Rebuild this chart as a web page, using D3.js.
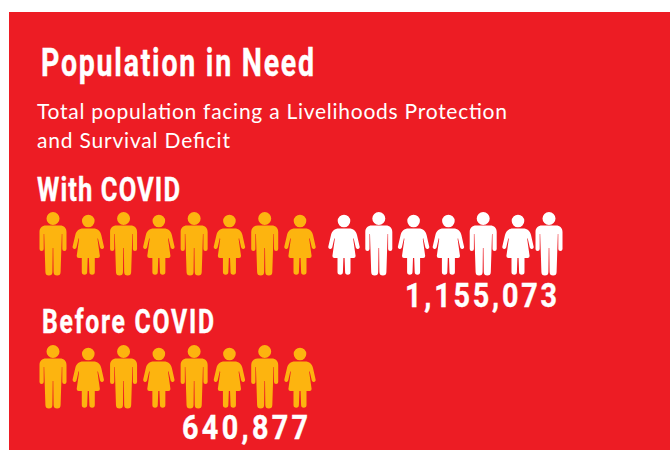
<!DOCTYPE html>
<html>
<head>
<meta charset="utf-8">
<script src="https://cdn.jsdelivr.net/npm/d3@7/dist/d3.min.js"></script>
<style>
  html, body { margin: 0; padding: 0; background: #fff; }
  svg { display: block; }
  text { fill: #fff; }
</style>
</head>
<body>
<div id="chart"></div>
<script>
// Population counts per scenario, one pictogram figure per block of people
const scenarios = ["With COVID", "Before COVID"];
const populations = [1155073, 640877];
const peoplePerIcon = 77000;

// Figure sequence along each row: m = man, w = woman
const figureOrder = ["m","w","m","w","m","w","m","w","w","m","w","w","m","w","m"];

const heading = "Population in Need";
const subheading = ["Total population facing a Livelihoods Protection", "and Survival Deficit"];

const RED = "#ed1c24", AMBER = "#fdb40f", WHITE = "#ffffff";

const width = 670, height = 450;
const svg = d3.select("#chart").append("svg").attr("width", width).attr("height", height);

svg.append("rect").attr("x", 9).attr("y", 12).attr("width", width - 9).attr("height", height - 12).attr("fill", RED);

// Figure outlines, centred on x = 0 with the top of the head at y = 0
function manPath() {
  const p = d3.path();
  p.arc(0, 6.5, 6.5, 0, 2 * Math.PI);
  p.closePath();
  p.moveTo(-7, 13.5);
  p.lineTo(7, 13.5);
  p.bezierCurveTo(11, 13.5, 13.5, 16, 13.5, 20);
  p.lineTo(13.5, 37);
  p.arc(11.4, 37, 2.1, 0, Math.PI);
  p.lineTo(9.3, 22);
  p.lineTo(8.8, 22);
  p.lineTo(7.6, 60);
  p.arc(4.1, 60, 3.5, 0, Math.PI);
  p.lineTo(0.3, 36);
  p.lineTo(-0.3, 36);
  p.lineTo(-0.6, 60);
  p.arc(-4.1, 60, 3.5, 0, Math.PI);
  p.lineTo(-8.8, 22);
  p.lineTo(-9.3, 22);
  p.lineTo(-9.3, 37);
  p.arc(-11.4, 37, 2.1, 0, Math.PI);
  p.lineTo(-13.5, 20);
  p.bezierCurveTo(-13.5, 16, -11, 13.5, -7, 13.5);
  p.closePath();
  return p.toString();
}

function womanPath() {
  const p = d3.path();
  p.arc(0, 9, 6.3, 0, 2 * Math.PI);
  p.closePath();
  p.moveTo(-5, 16.5);
  p.lineTo(5, 16.5);
  p.bezierCurveTo(9.5, 16.5, 12, 19, 13, 23);
  p.lineTo(15.6, 34.5);
  p.arc(13.7, 35, 2, -0.2, Math.PI - 0.3);
  p.lineTo(9.6, 26);
  p.lineTo(9.2, 27);
  p.lineTo(11.6, 44);
  p.quadraticCurveTo(11.6, 46, 9.6, 46);
  p.lineTo(6.5, 46);
  p.lineTo(6.5, 60);
  p.arc(3.8, 60, 2.7, 0, Math.PI);
  p.lineTo(0.6, 46);
  p.lineTo(-0.6, 46);
  p.lineTo(-1.1, 60);
  p.arc(-3.8, 60, 2.7, 0, Math.PI);
  p.lineTo(-6.5, 46);
  p.lineTo(-9.6, 46);
  p.quadraticCurveTo(-11.6, 46, -11.6, 44);
  p.lineTo(-9.2, 27);
  p.lineTo(-9.6, 26);
  p.lineTo(-11.8, 35.6);
  p.arc(-13.7, 35, 2, 0.3, Math.PI + 0.2);
  p.lineTo(-13, 23);
  p.bezierCurveTo(-12, 19, -9.5, 16.5, -5, 16.5);
  p.closePath();
  return p.toString();
}

const glyphs = { m: manPath(), w: womanPath() };

// Position along the row: the baseline block, a wider gap, then the added block
const baseCount = Math.round(populations[1] / peoplePerIcon);
const totalCount = Math.round(populations[0] / peoplePerIcon);
const x = d3.scaleLinear()
  .domain([0, baseCount - 1, baseCount, totalCount - 2, totalCount - 1])
  .range([53, 300, 344, 518, 549]);

const rowY = d3.scalePoint().domain(scenarios).range([212, 345]);

scenarios.forEach((name, r) => {
  const n = Math.round(populations[r] / peoplePerIcon);
  svg.append("g")
    .selectAll("path")
    .data(figureOrder.slice(0, n))
    .join("path")
    .attr("d", d => glyphs[d])
    .attr("transform", (d, i) => `translate(${x(i)},${rowY(name)})`)
    .attr("fill", (d, i) => i < baseCount ? AMBER : WHITE);
});

// Headline text: a bold face squeezed horizontally, tracked out to the wanted width
function headline(content, xPos, baseline, size, len, squeeze) {
  svg.append("text")
    .attr("transform", `translate(${xPos},${baseline}) scale(${squeeze},1)`)
    .attr("font-family", "Roboto, sans-serif")
    .attr("font-weight", 700)
    .attr("font-size", size)
    .attr("textLength", len / squeeze)
    .attr("lengthAdjust", "spacing")
    .attr("stroke", "#fff")
    .attr("stroke-width", 0.4)
    .text(content);
}

function body(content, xPos, baseline, len) {
  svg.append("text")
    .attr("x", xPos)
    .attr("y", baseline)
    .attr("font-family", "Lato, sans-serif")
    .attr("font-size", 21)
    .attr("textLength", len)
    .attr("lengthAdjust", "spacing")
    .text(content);
}

headline(heading, 41, 76, 38, 273, 0.75);
body(subheading[0], 37, 119, 470);
body(subheading[1], 37, 148, 193);

const fmt = d3.format(",");
headline(scenarios[0], 37, 201, 34, 143, 0.75);
headline(fmt(populations[0]), 405, 307, 33, 152, 0.87);
headline(scenarios[1], 42, 333, 33, 172, 0.75);
headline(fmt(populations[1]), 182, 439, 33, 126, 0.87);
</script>
</body>
</html>
